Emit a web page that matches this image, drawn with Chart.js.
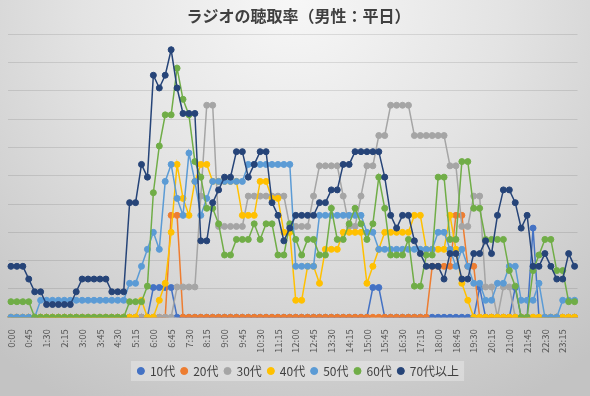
<!DOCTYPE html>
<html lang="ja">
<head>
<meta charset="utf-8">
<title>ラジオの聴取率（男性：平日）</title>
<script src="https://cdn.jsdelivr.net/npm/chart.js@4.4.1/dist/chart.umd.min.js"></script>
<style>
  html, body { margin: 0; padding: 0; }
  #wrap {
    position: relative; width: 590px; height: 396px;
    background: radial-gradient(ellipse 80% 115% at 50% 0%, #f7f7f7 0%, #e3e3e3 45%, #c3c3c3 100%);
  }
</style>
</head>
<body>
<div id="wrap"><canvas id="chartRadio" width="590" height="396"></canvas></div>
<script>
// 15-minute slots, 0:00 - 23:45
const timeLabels = [
  '0:00','0:15','0:30','0:45','1:00','1:15','1:30','1:45','2:00','2:15','2:30','2:45',
  '3:00','3:15','3:30','3:45','4:00','4:15','4:30','4:45','5:00','5:15','5:30','5:45',
  '6:00','6:15','6:30','6:45','7:00','7:15','7:30','7:45','8:00','8:15','8:30','8:45',
  '9:00','9:15','9:30','9:45','10:00','10:15','10:30','10:45','11:00','11:15','11:30','11:45',
  '12:00','12:15','12:30','12:45','13:00','13:15','13:30','13:45','14:00','14:15','14:30','14:45',
  '15:00','15:15','15:30','15:45','16:00','16:15','16:30','16:45','17:00','17:15','17:30','17:45',
  '18:00','18:15','18:30','18:45','19:00','19:15','19:30','19:45','20:00','20:15','20:30','20:45',
  '21:00','21:15','21:30','21:45','22:00','22:15','22:30','22:45','23:00','23:15','23:30','23:45'
];

const seriesNames = ['10代', '20代', '30代', '40代', '50代', '60代', '70代以上'];
const seriesColors = ['#4472C4', '#ED7D31', '#A5A5A5', '#FFC000', '#5B9BD5', '#70AD47', '#264478'];

const teens = [
  0,0,0,0,0,0,0,0,0,0,0,0,
  0,0,0,0,0,0,0,0,0,0,0,0,
  1.05,1.05,1.05,1.05,0,0,0,0,0,0,0,0,
  0,0,0,0,0,0,0,0,0,0,0,0,
  0,0,0,0,0,0,0,0,0,0,0,0,
  0,1.05,1.05,0,0,0,0,0,0,0,0,0,
  0,0,0,0,0,0,0,1.05,0,0,0,0,
  0,1.05,0,0,3.15,0,0,0,0,0,0,0
];
const twenties = [
  0,0,0,0,0,0,0,0,0,0,0,0,
  0,0,0,0,0,0,0,0,0,0,0,0,
  0,0,0,3.6,3.6,0,0,0,0,0,0,0,
  0,0,0,0,0,0,0,0,0,0,0,0,
  0,0,0,0,0,0,0,0,0,0,0,0,
  0,0,0,0,0,0,0,0,0,0,0,1.8,
  1.8,1.8,1.8,3.6,3.6,1.8,1.8,0,0,0,0,0,
  0,0,0,0,0,0,0,0,0,0,0,0
];
const thirties = [
  0,0,0,0,0,0,0,0,0,0,0,0,
  0,0,0,0,0,0,0,0,0,0,0,0,
  0,0,0,0,1.07,1.07,1.07,1.07,4.28,7.49,7.49,3.21,
  3.21,3.21,3.21,3.21,4.28,4.28,4.28,4.28,4.28,4.28,4.28,3.21,
  3.21,3.21,3.21,4.28,5.35,5.35,5.35,5.35,4.28,3.21,3.21,4.28,
  5.35,5.35,6.42,6.42,7.49,7.49,7.49,7.49,6.42,6.42,6.42,6.42,
  6.42,6.42,5.35,5.35,3.21,3.21,4.28,4.28,1.07,1.07,0,1.07,
  1.07,0,0,0,0,0,0,0,0,0,0,0
];
const forties = [
  0,0,0,0,0,0,0,0,0,0,0,0,
  0,0,0,0,0,0,0,0,0,0,0.6,0,
  0,0.6,1.2,3.0,5.4,4.2,3.6,4.8,5.4,5.4,4.8,4.8,
  4.8,4.8,4.8,3.6,3.6,3.6,4.8,4.8,4.2,4.2,3.0,3.0,
  0.6,0.6,1.8,1.8,1.2,2.4,2.4,2.4,3.0,3.0,3.0,3.0,
  1.2,1.8,2.4,3.0,3.0,3.0,3.0,3.0,3.6,3.6,2.4,2.4,
  2.4,2.4,3.6,2.4,1.2,0.6,0,0,0,0,0,0,
  0,0,0,0,0,0,0,0,0,0,0,0
];
const fifties = [
  0,0,0,0,0,0.6,0.6,0.6,0.6,0.6,0.6,0.6,
  0.6,0.6,0.6,0.6,0.6,0.6,0.6,0.6,1.2,1.2,1.8,2.4,
  3.0,2.4,4.8,5.4,4.2,3.6,5.8,4.8,3.6,4.2,4.8,4.8,
  4.8,4.8,4.8,4.8,5.4,5.4,5.4,5.4,5.4,5.4,5.4,5.4,
  1.8,1.8,1.8,1.8,3.6,3.6,3.6,3.6,3.6,3.6,3.6,3.6,
  3.0,3.0,2.4,2.4,2.4,2.4,2.4,2.4,2.4,2.4,2.4,2.4,
  3.0,3.0,2.4,1.8,2.4,1.8,1.2,1.2,0.6,0.6,1.2,1.2,
  1.8,1.8,0.6,0.6,0.6,1.2,0,0,0,0.6,0.6,0.6
];
const sixties = [
  0.55,0.55,0.55,0.55,0,0,0,0,0,0,0,0,
  0,0,0,0,0,0,0,0,0.55,0.55,0.55,1.1,
  4.4,6.05,7.15,7.15,8.8,7.7,7.15,5.5,4.95,3.85,3.85,3.3,
  2.2,2.2,2.75,2.75,2.75,3.3,2.75,3.3,3.3,2.2,2.2,3.3,
  2.75,2.2,2.75,2.75,2.2,2.2,3.85,2.75,2.75,3.3,3.85,3.3,
  2.75,3.3,4.95,3.85,2.2,2.2,2.2,2.75,1.1,1.1,2.2,2.2,
  4.95,4.95,2.75,2.75,5.5,5.5,3.85,3.85,2.75,2.75,2.75,2.75,
  1.65,1.1,0,0,1.65,2.2,2.75,2.75,1.65,1.65,0.55,0.55
];
const seventiesPlus = [
  1.8,1.8,1.8,1.35,0.9,0.9,0.45,0.45,0.45,0.45,0.45,0.9,
  1.35,1.35,1.35,1.35,1.35,0.9,0.9,0.9,4.05,4.05,5.4,4.95,
  8.55,8.1,8.55,9.45,8.1,7.2,7.2,7.2,2.7,2.7,4.05,4.5,
  4.95,4.95,5.85,5.85,4.95,5.4,5.85,5.85,4.05,3.6,2.7,3.15,
  3.6,3.6,3.6,3.6,4.05,4.05,4.5,4.5,5.4,5.4,5.85,5.85,
  5.85,5.85,5.85,4.95,3.6,3.15,3.6,3.6,2.7,2.25,1.8,1.8,
  1.8,1.35,2.25,2.25,1.35,1.35,2.25,2.25,2.7,2.25,3.6,4.5,
  4.5,4.05,3.15,3.6,1.8,1.8,2.25,1.8,1.35,1.35,2.25,1.8
];

const seriesValues = [teens, twenties, thirties, forties, fifties, sixties, seventiesPlus];
const fontFamily = '"Noto Sans CJK JP", "Noto Sans", sans-serif';

// light panel behind the legend row
const legendBackdrop = {
  id: 'legendBackdrop',
  beforeDraw(chart) {
    const boxes = chart.legend && chart.legend.legendHitBoxes;
    if (!boxes || !boxes.length) return;
    const first = boxes[0], last = boxes[boxes.length - 1];
    const ctx = chart.ctx;
    ctx.save();
    ctx.fillStyle = 'rgba(255,255,255,0.3)';
    ctx.fillRect(first.left - 7, first.top - 4, last.left + last.width - first.left + 12, first.height + 8);
    ctx.restore();
  }
};

function renderChart() {
  const ctx = document.getElementById('chartRadio').getContext('2d');
  new Chart(ctx, {
    type: 'line',
    data: {
      labels: timeLabels,
      datasets: seriesNames.map((name, i) => ({
        label: name,
        data: seriesValues[i],
        borderColor: seriesColors[i],
        backgroundColor: seriesColors[i],
        pointBackgroundColor: seriesColors[i],
        pointBorderColor: seriesColors[i],
        borderWidth: 1.5,
        pointRadius: 3,
        pointBorderWidth: 1,
        pointHoverRadius: 3,
        tension: 0,
        order: seriesNames.length - i   // later series drawn on top, like the original
      }))
    },
    options: {
      responsive: false,
      animation: false,
      layout: { padding: { left: 8, right: 1, bottom: 9 } },
      plugins: {
        title: {
          display: true,
          text: 'ラジオの聴取率（男性：平日）',
          color: '#404040',
          font: { family: fontFamily, size: 16, weight: 'bold' },
          padding: { top: 6, bottom: 9 }
        },
        legend: {
          position: 'bottom',
          labels: {
            usePointStyle: true,
            pointStyle: 'circle',
            boxWidth: 6,
            boxHeight: 5,
            padding: 6,
            color: '#404040',
            font: { family: fontFamily, size: 12 },
            sort: (a, b) => a.datasetIndex - b.datasetIndex
          }
        },
        tooltip: { enabled: false }
      },
      scales: {
        x: {
          offset: true,
          grid: { display: false },
          border: { display: false },
          afterFit: (scale) => { scale.height += 2; },
          ticks: {
            autoSkip: false,
            minRotation: 90,
            maxRotation: 90,
            padding: 4,
            color: '#595959',
            font: { family: fontFamily, size: 9.5 },
            callback: function (val, idx) {
              return idx % 3 === 0 ? this.getLabelForValue(val) : '';
            }
          }
        },
        y: {
          min: 0,
          max: 10,
          ticks: { display: false, stepSize: 1 },
          border: { display: false },
          grid: { color: 'rgba(0,0,0,0.1)', drawTicks: false }
        }
      }
    },
    plugins: [legendBackdrop]
  });
}

document.addEventListener('DOMContentLoaded', renderChart);
</script>
</body>
</html>
